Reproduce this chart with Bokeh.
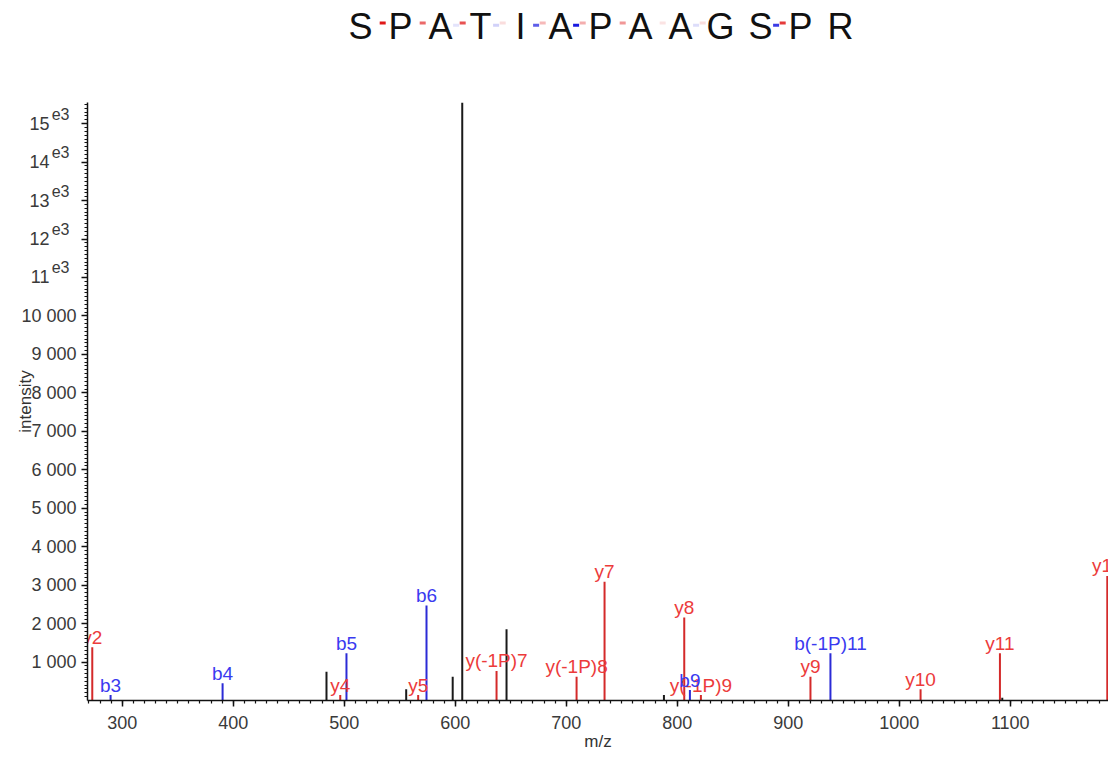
from bokeh.plotting import figure
from bokeh.layouts import column
from bokeh.models import Range1d, FixedTicker, LinearAxis
from bokeh.core.properties import value
from bokeh.embed import file_html
from bokeh.resources import INLINE

# ---------------- data ----------------
sequence = ["S", "P", "A", "T", "I", "A", "P", "A", "A", "G", "S", "P", "R"]
# fragment-coverage marks between residues (site k lies between residue k and k+1)
y_mark_alpha = [1.0, 0.65, 0.75, 0.15, 0.3, 0.35, 0.45, 0.12, 0.15, 0.0, 0.85, 0.0]
b_mark_alpha = [0.0, 0.0, 0.12, 0.2, 0.7, 1.0, 0.0, 0.0, 0.15, 0.0, 0.85, 0.0]

other_mz = [484.0, 555.8, 597.7, 606.3, 646.2, 788.0, 1092.8]
other_int = [750, 290, 620, 15550, 1850, 140, 70]

y_mz = [273.0, 496.4, 566.6, 637.2, 709.3, 734.5, 806.3, 821.3, 920.0, 1019.2, 1090.7, 1187.4]
y_int = [1385, 140, 140, 770, 620, 3090, 2160, 140, 620, 290, 1230, 3240]
y_lab = ["y2", "y4", "y5", "y(-1P)7", "y(-1P)8", "y7", "y8", "y(-1P)9", "y9", "y10", "y11", "y12"]

b_mz = [289.5, 390.4, 502.0, 574.1, 811.4, 938.0]
b_int = [140, 450, 1230, 2470, 270, 1230]
b_lab = ["b3", "b4", "b5", "b6", "b9", "b(-1P)11"]

x_ticks = [300, 400, 500, 600, 700, 800, 900, 1000, 1100]
y_ticks = [1000, 2000, 3000, 4000, 5000, 6000, 7000, 8000, 9000, 10000,
           11000, 12000, 13000, 14000, 15000]
y_tick_labels = ["1 000", "2 000", "3 000", "4 000", "5 000", "6 000", "7 000",
                 "8 000", "9 000", "10 000", "11", "12", "13", "14", "15"]
y_tick_exponent = ["", "", "", "", "", "", "", "", "", "", "e3", "e3", "e3", "e3", "e3"]

FONT = value("Liberation Sans")
RED_LINE = "#d42a2a"
RED_TEXT = "#ec3b3b"
BLUE_LINE = "#2b2bd6"
BLUE_TEXT = "#3a3af0"
W = 1108
LEFT = 87
TITLE_H = 50
MAIN_H = 707
Y_MAX = 15550
FRAME_H = 598
SUP_RAISE_PX = 10

# ---------------- sequence header ----------------
n = len(sequence)
x0 = (LEFT - 360) / 40.0
pt = figure(width=W, height=TITLE_H, x_range=Range1d(x0, x0 + (W - LEFT) / 40.0),
            y_range=Range1d(TITLE_H, 0),
            toolbar_location=None, output_backend="svg",
            x_axis_location=None, y_axis_location=None,
            min_border_left=LEFT, min_border_right=0, min_border_top=0, min_border_bottom=0)
pt.grid.grid_line_color = None
pt.outline_line_color = None
pt.text(x=list(range(n)), y=[25.5] * n, text=sequence, text_align="center",
        text_baseline="middle", text_font=FONT, text_font_size="36px", text_color="#111111")
sites = list(range(len(y_mark_alpha)))
pt.rect(x=[s + 0.555 for s in sites], y=[22.5] * len(sites), width=6, height=3,
        width_units="screen", height_units="screen", fill_color="#e01818",
        fill_alpha=y_mark_alpha, line_color=None)
pt.rect(x=[s + 0.39 for s in sites], y=[24.8] * len(sites), width=6, height=3,
        width_units="screen", height_units="screen", fill_color="#1818e0",
        fill_alpha=b_mark_alpha, line_color=None)

# ---------------- spectrum ----------------
p = figure(width=W, height=MAIN_H, x_range=Range1d(268.7, 1188.5), y_range=Range1d(0, Y_MAX),
           toolbar_location=None, output_backend="svg",
           min_border_left=LEFT, min_border_right=0, min_border_top=102 - TITLE_H,
           min_border_bottom=57)
p.grid.grid_line_color = None
p.outline_line_color = None

p.segment(x0=other_mz, y0=[0] * len(other_mz), x1=other_mz, y1=other_int,
          line_color="#1a1a1a", line_width=2)
p.segment(x0=y_mz, y0=[0] * len(y_mz), x1=y_mz, y1=y_int, line_color=RED_LINE, line_width=2)
p.segment(x0=b_mz, y0=[0] * len(b_mz), x1=b_mz, y1=b_int, line_color=BLUE_LINE, line_width=2)

p.text(x=y_mz, y=y_int, text=y_lab, text_align="center", text_baseline="alphabetic",
       y_offset=-10, text_font=FONT, text_font_size="19px", text_color=RED_TEXT)
p.text(x=b_mz, y=b_int, text=b_lab, text_align="center", text_baseline="alphabetic",
       y_offset=-10, text_font=FONT, text_font_size="19px", text_color=BLUE_TEXT)

p.xaxis.ticker = FixedTicker(ticks=x_ticks, minor_ticks=list(range(270, 1190, 10)))
p.yaxis.ticker = FixedTicker(ticks=y_ticks, minor_ticks=list(range(100, 15600, 100)))
# labels with an exponent get room (en spaces) for the raised "e3"
p.yaxis.major_label_overrides = {
    t: (l + "\u2002\u2002\u2002" if e else l)
    for t, l, e in zip(y_ticks, y_tick_labels, y_tick_exponent)
}

for ax in (p.xaxis[0], p.yaxis[0]):
    ax.axis_line_color = "#111111"
    ax.axis_line_width = 1.5
    ax.major_tick_line_color = "#111111"
    ax.major_tick_line_width = 1.5
    ax.minor_tick_line_color = "#111111"
    ax.minor_tick_line_width = 1.2
    ax.major_tick_in = 0
    ax.major_tick_out = 6
    ax.minor_tick_in = 0
    ax.minor_tick_out = 3
    ax.major_label_text_font = "Liberation Sans"
    ax.major_label_text_font_size = "18px"
    ax.major_label_text_color = "#3a3a3a"
    ax.axis_label_text_font = "Liberation Sans"
    ax.axis_label_text_font_size = "17px"
    ax.axis_label_text_font_style = "normal"
    ax.axis_label_text_color = "#333333"

p.xaxis.axis_label = "m/z"
p.xaxis.major_label_standoff = 9
p.xaxis.axis_label_standoff = 0
p.yaxis.axis_label = "intensity"
p.yaxis.axis_label_standoff = -17

# raised "e3" exponents: a label-only axis on a range shifted up by a few pixels
shift = SUP_RAISE_PX * Y_MAX / FRAME_H
p.extra_y_ranges = {"sup": Range1d(-shift, Y_MAX - shift)}
sup_ticks = [t for t, e in zip(y_ticks, y_tick_exponent) if e]
sup_axis = LinearAxis(y_range_name="sup", ticker=FixedTicker(ticks=sup_ticks, minor_ticks=[]),
                      major_label_overrides={t: e for t, e in zip(y_ticks, y_tick_exponent) if e},
                      axis_line_color=None, major_tick_line_color=None,
                      minor_tick_line_color=None, major_tick_in=0, major_tick_out=0,
                      minor_tick_in=0, minor_tick_out=0, major_label_standoff=-56,
                      major_label_text_font="Liberation Sans", major_label_text_font_size="16px",
                      major_label_text_color="#3a3a3a")
p.add_layout(sup_axis, "left")

layout = column(pt, p, spacing=0)
open("out.html", "w").write(file_html(layout, INLINE))
